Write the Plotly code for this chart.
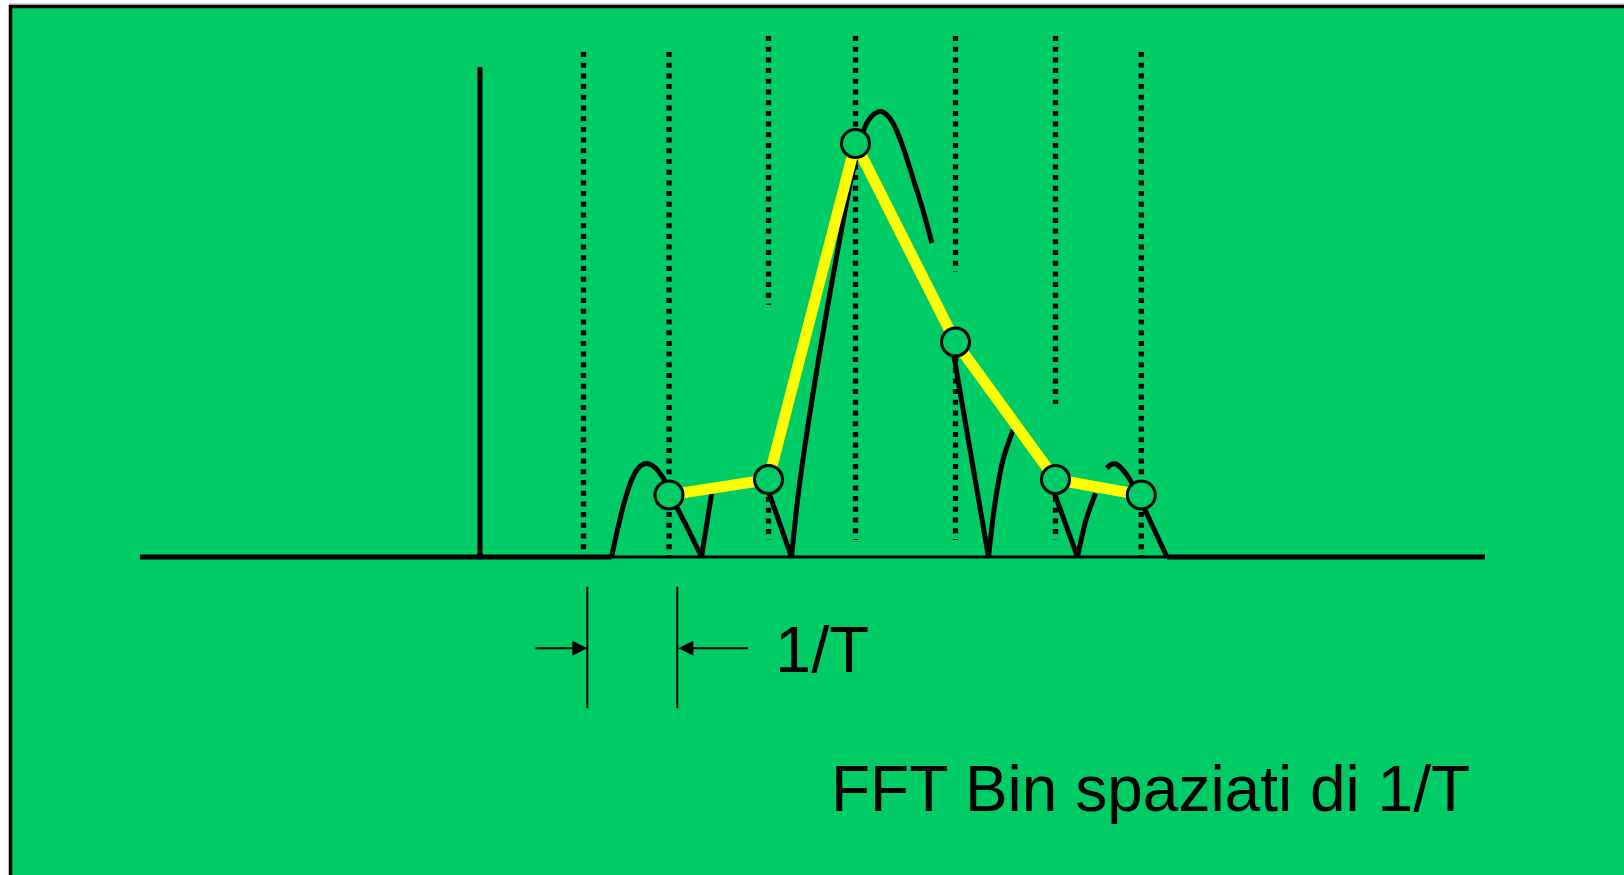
import plotly.graph_objects as go

# ---- data (x: frequency axis in px units, y: amplitude above baseline) ----
# FFT bins (samples of the spectrum)
bin_x = [669, 768.5, 855.5, 955.5, 1055.5, 1141.3]
bin_amp = [62, 77.5, 413.5, 215, 77.5, 62]

# Continuous spectrum |sinc| (segments separated by None)
spec_x = [611.5, 617, 623, 629, 635, 641, 647, 653, 659, 665,
          677.3, 690, 701.5, 711.7, None,
          764.5, 791.5, 797, 803, 809, 815, 822, 830, 842, 850, 856, 862, 868, 874,
          881, 888, 895, 903, 912, 922, 932, None,
          951.5, 988.5, 995, 1003, 1013, None,
          1049.5, 1077.5, 1086, 1095.5, None,
          1106.7, 1111, 1116, 1122, 1129, 1137, 1145, 1167]
spec_amp = [0, 25, 50, 70, 84, 91.5, 93.5, 91, 85, 76,
            49, 24, 0, 63.7, None,
            77, 0, 52, 98, 138, 176, 218, 264, 330, 372, 398, 422, 436, 443,
            445.5, 441, 430, 410, 382, 350, 314, None,
            215, 0, 54, 97, 127, None,
            77.5, 0, 37, 63.7, None,
            88.7, 92.5, 93, 88, 79, 64, 47, 0]

# Bin grid (dotted lines): x, and visible segments [top, bottom]
grid_x = [583.5, 669, 768.5, 855.5, 955.5, 1055.5, 1141.3]
grid_segments = [
    [[505, 0]],
    [[505, 0]],
    [[521, 252], [60, 17]],
    [[521, 17]],
    [[521, 285], [200, 17]],
    [[521, 153], [60, 17]],
    [[505, 0]],
]

# Tone line
tone_x = [480, 480]
tone_amp = [0, 490]

# Frequency axis (baseline) segments
axis_thick_left = [140, 611.5]
axis_thin_mid = [611.5, 1167]
axis_thick_right = [1167, 1485]

# 1/T dimension marks
dim_x = [587.3, 677.3]
dim_amp = [-29.7, -151.3]
dim_arrow_amp = -91.3
dim_left_tail, dim_right_tail = 534, 749.3

label_dim = "1/T"
label_title = "FFT Bin spaziati di 1/T"

GREEN = "rgb(0,204,102)"
fig = go.Figure()

# dotted grid
for gx, segs in zip(grid_x, grid_segments):
    xs, ys = [], []
    for top, bot in segs:
        xs += [gx, gx, None]
        ys += [top, bot, None]
    fig.add_trace(go.Scatter(x=xs, y=ys, mode="lines",
                             line=dict(color="black", width=5.3, dash="5px,5.7px"),
                             hoverinfo="skip", showlegend=False))

# baseline
for seg, w in [(axis_thick_left, 5), (axis_thin_mid, 3), (axis_thick_right, 5)]:
    fig.add_trace(go.Scatter(x=seg, y=[0, 0], mode="lines",
                             line=dict(color="black", width=w),
                             hoverinfo="skip", showlegend=False))

# tone line
fig.add_trace(go.Scatter(x=tone_x, y=tone_amp, mode="lines",
                         line=dict(color="black", width=5),
                         hoverinfo="skip", showlegend=False))

# spectrum: split into pieces at gaps and at baseline nulls (sharp corners),
# each piece drawn as a smooth spline
pieces = []
cur_x, cur_y = [], []
for xv, yv in zip(spec_x, spec_amp):
    if xv is None:
        if len(cur_x) > 1:
            pieces.append((cur_x, cur_y))
        cur_x, cur_y = [], []
        continue
    cur_x.append(xv)
    cur_y.append(yv)
    if yv == 0 and len(cur_x) > 1:
        pieces.append((cur_x, cur_y))
        cur_x, cur_y = [xv], [yv]
if len(cur_x) > 1:
    pieces.append((cur_x, cur_y))

for px, py in pieces:
    fig.add_trace(go.Scatter(x=px, y=py, mode="lines",
                             line=dict(color="black", width=5, shape="spline",
                                       smoothing=0.8),
                             hoverinfo="skip", showlegend=False))

# yellow bin polyline
fig.add_trace(go.Scatter(x=bin_x, y=bin_amp, mode="lines",
                         line=dict(color="#FFFF00", width=11),
                         hoverinfo="skip", showlegend=False))
# bin circles
fig.add_trace(go.Scatter(x=bin_x, y=bin_amp, mode="markers",
                         marker=dict(size=28, color=GREEN,
                                     line=dict(color="black", width=3)),
                         hoverinfo="skip", showlegend=False))

# dimension vertical marks
for dx in dim_x:
    fig.add_trace(go.Scatter(x=[dx, dx], y=dim_amp, mode="lines",
                             line=dict(color="black", width=2),
                             hoverinfo="skip", showlegend=False))

annotations = [
    dict(x=dim_x[0], y=dim_arrow_amp, ax=dim_left_tail, ay=dim_arrow_amp,
         xref="x", yref="y", axref="x", ayref="y", text="", showarrow=True,
         arrowhead=2, arrowwidth=2, arrowsize=1.5, arrowcolor="black", standoff=0),
    dict(x=dim_x[1] + 1, y=dim_arrow_amp, ax=dim_right_tail, ay=dim_arrow_amp,
         xref="x", yref="y", axref="x", ayref="y", text="", showarrow=True,
         arrowhead=2, arrowwidth=2, arrowsize=1.5, arrowcolor="black", standoff=0),
    dict(x=773, y=-92, xref="x", yref="y", text=label_dim, showarrow=False,
         xanchor="left", yanchor="middle",
         font=dict(family="Liberation Sans, Arial, sans-serif", size=65, color="black")),
    dict(x=829, y=-231.5, xref="x", yref="y", text=label_title, showarrow=False,
         xanchor="left", yanchor="middle",
         font=dict(family="Liberation Sans, Arial, sans-serif", size=64, color="black")),
]

shapes = [
    dict(type="rect", xref="x", yref="y", x0=10.5, y0=557 - 6.5, x1=1700, y1=-400,
         fillcolor=GREEN, line=dict(color="black", width=3.5), layer="below"),
    dict(type="line", xref="x", yref="y", x0=9, x1=1700, y0=557 - 4, y1=557 - 4,
         line=dict(color="#9a9a9a", width=1), layer="below"),
]

fig.update_layout(
    width=1624, height=875,
    margin=dict(l=0, r=0, t=0, b=0),
    paper_bgcolor="white", plot_bgcolor="white",
    xaxis=dict(range=[0, 1624], visible=False, fixedrange=True),
    yaxis=dict(range=[557 - 875, 557], visible=False, fixedrange=True),
    annotations=annotations, shapes=shapes,
)

fig.write_html(
    "out.html",
    config={"displayModeBar": False},
    post_script="document.body.style.margin='0px';document.body.style.overflow='hidden';",
)
